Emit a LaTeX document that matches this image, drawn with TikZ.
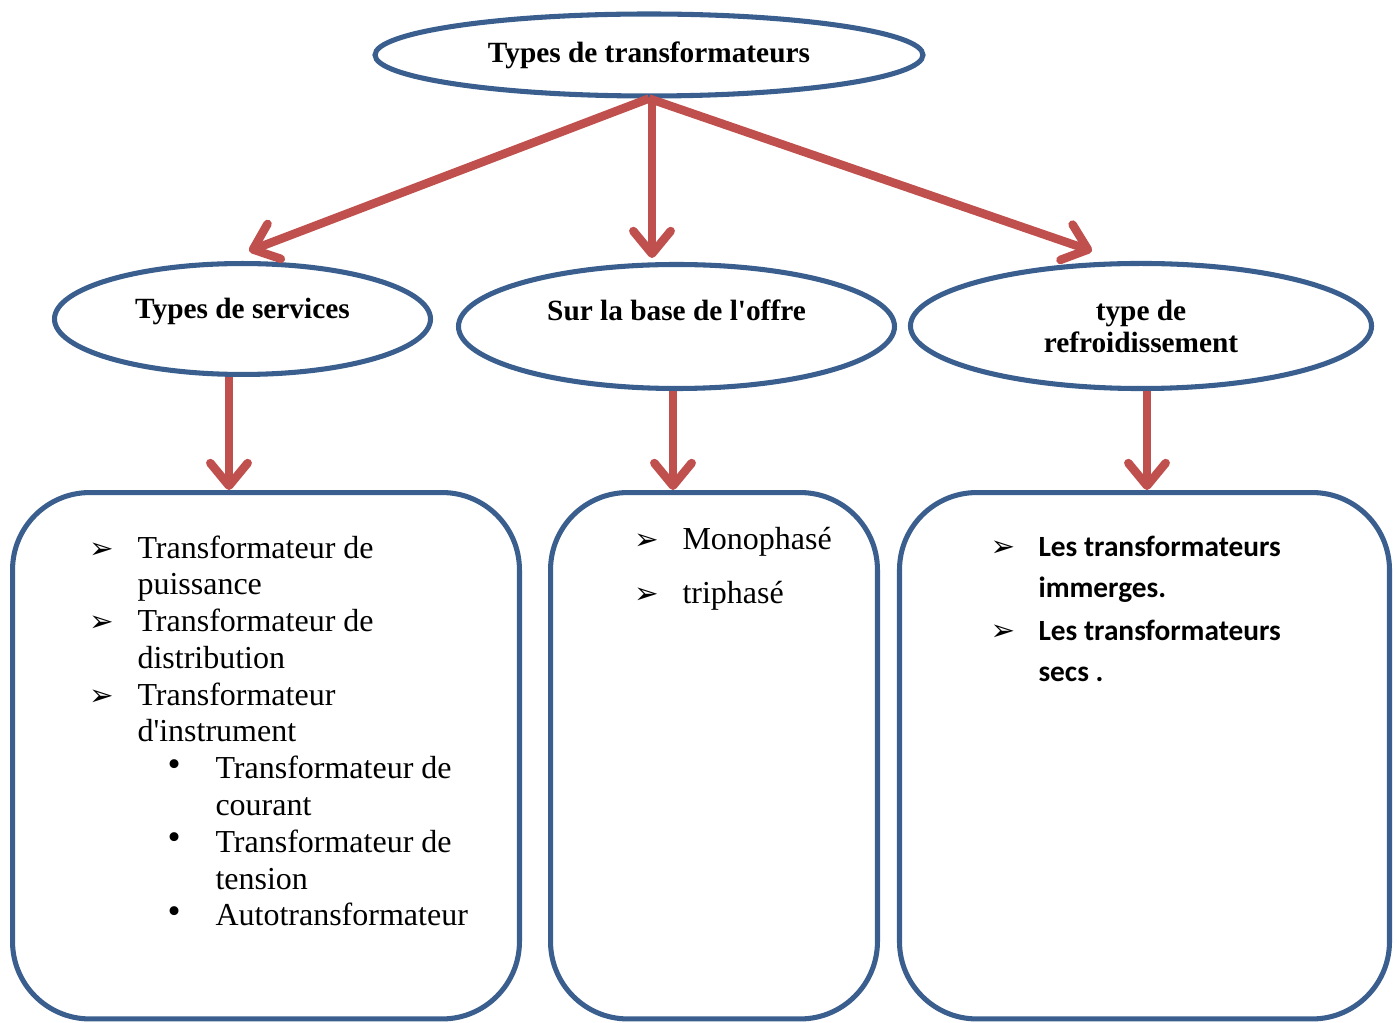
\documentclass[tikz,border=0pt]{standalone}
\usepackage{fontspec}
\setmainfont{Liberation Serif}
\newfontfamily\calib{Carlito}
\newfontfamily\symb{DejaVu Sans}
\usetikzlibrary{shapes.geometric, arrows.meta, calc}

\definecolor{cadre}{RGB}{58,95,143}
\definecolor{fleche}{RGB}{192,80,77}

\newcommand\fl{\makebox[18pt][l]{\symb\fontsize{11}{11}\selectfont ➢}}
\newcommand\puce{\hspace*{29.25pt}\makebox[18pt][l]{\raisebox{1pt}{\fontsize{14}{14}\selectfont •}}}
\newcommand\suite{\hspace*{18pt}}
\newcommand\suitepuce{\hspace*{47.25pt}}

\begin{document}
\begin{tikzpicture}[
    x=0.375pt, y=-0.375pt,
    bulle/.style={ellipse, draw=cadre, line width=1.9pt, inner sep=0pt,
        font=\fontsize{11}{12}\selectfont\bfseries, align=center},
    cadreliste/.style={rectangle, rounded corners=29pt, draw=cadre,
        line width=1.9pt, inner sep=0pt},
    liste/.style={inner sep=0pt, anchor=base west, align=left},
    lien/.style={draw=fleche, line width=3.2pt,
        -{Straight Barb[length=8.5pt, width=14pt, round]}}
    ]
    \useasboundingbox (0,0) rectangle (1399,1023);

    % ellipses
    \node[bulle, minimum width=205.5pt, minimum height=30.75pt] (top) at (649,55)
        {Types de transformateurs};
    \node[bulle, minimum width=141pt, minimum height=41.6pt,
        text height=8pt, text depth=8pt] (svc) at (242.5,319) {Types de services};
    \node[bulle, minimum width=163.5pt, minimum height=46.5pt,
        text height=8pt, text depth=12.5pt] (offre) at (676.5,326.5)
        {Sur la base de l\textquotesingle offre};
    \node[bulle, minimum width=172.9pt, minimum height=46.9pt] (froid) at (1141,326)
        {type de\\refroidissement};

    % cadres
    \node[cadreliste, minimum width=190.1pt, minimum height=197.4pt] (b1) at (266,755.75) {};
    \node[cadreliste, minimum width=122.6pt, minimum height=197.4pt] (b2) at (714,755.75) {};
    \node[cadreliste, minimum width=183.75pt, minimum height=197.4pt] (b3) at (1144.5,755.75) {};

    % bouts des fleches
    \coordinate (p1) at (249,251);
    \coordinate (p2) at (652,258);
    \coordinate (p3) at (1092,251);
    \coordinate (q1) at (229,490);
    \coordinate (q2) at (673,490);
    \coordinate (q3) at (1147,490);

    \draw[lien] (top.south) -- (p1);
    \draw[lien] (top.south -| p2) -- (p2);
    \draw[lien] (top.south) -- (p3);
    \draw[lien] (svc.south -| q1) -- (q1);
    \draw[lien] (offre.south -| q2) -- (q2);
    \draw[lien] (froid.south -| q3) -- (q3);

    % listes (ancre sur la derniere ligne)
    \node[liste, font=\fontsize{12}{13.8}\selectfont] (l1) at (89,926) {%
        \fl Transformateur de\\
        \suite puissance\\
        \fl Transformateur de\\
        \suite distribution\\
        \fl Transformateur\\
        \suite d\textquotesingle instrument\\
        \puce Transformateur de\\
        \suitepuce courant\\
        \puce Transformateur de\\
        \suitepuce tension\\
        \puce Autotransformateur};
    \node[liste, font=\fontsize{12}{20.25}\selectfont] (l2) at (634,604) {%
        \fl Monophasé\\
        \fl triphasé};
    \node[liste, font=\fontsize{11}{15.4}\selectfont\calib\bfseries] (l3) at (990,682) {%
        \fl Les transformateurs\\
        \suite immerges.\\[1pt]
        \fl Les transformateurs\\
        \suite secs .};
\end{tikzpicture}
\end{document}
